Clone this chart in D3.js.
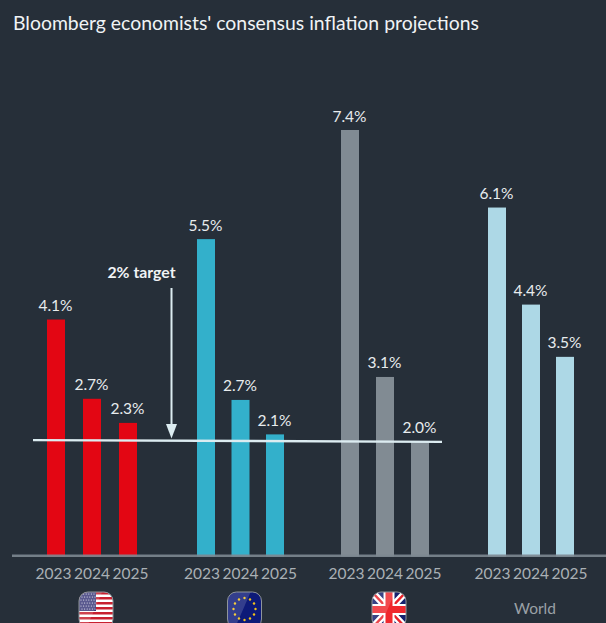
<!DOCTYPE html>
<html><head><meta charset="utf-8">
<script src="https://cdn.jsdelivr.net/npm/d3@7"></script>
<style>html,body{margin:0;padding:0;background:#262f39}svg{display:block}text{font-family:Lato,"Noto Sans",sans-serif}</style>
</head><body><svg id="c" width="606" height="623"></svg>
<script>
const titleText = "Bloomberg economists' consensus inflation projections";
const regions = ["US","Eurozone","UK","World"];
const years = ["2023","2024","2025"];
const usValues = [4.1,2.72,2.3];
const euValues = [5.5,2.7,2.1];
const ukValues = [7.4,3.1,1.97];
const worldValues = [6.05,4.36,3.45];
const usLabels = ["4.1%","2.7%","2.3%"];
const euLabels = ["5.5%","2.7%","2.1%"];
const ukLabels = ["7.4%","3.1%","2.0%"];
const worldLabels = ["6.1%","4.4%","3.5%"];
const regionColors = ["#e30613","#33b0cb","#818b93","#add8e6"];
const targetLabel = "2% target";
const targetValue = [2.0,1.97];

const values = [usValues,euValues,ukValues,worldValues];
const labels = [usLabels,euLabels,ukLabels,worldLabels];
const svg = d3.select("#c");
const W=606,H=623;
const y = d3.scaleLinear().domain([0,7.4]).range([555,130]);
const cx = d3.scaleOrdinal().domain(regions).range([92,240.5,385,531]);
const barStep = d3.scaleOrdinal().domain(regions).range([36,34.5,35,34]);
const yearIdx = d3.scalePoint().domain(years).range([-1,1]);
const barX = (r,yr)=>cx(r)+yearIdx(yr)*barStep(r);
const barW = 18;

svg.append("rect").attr("width",W).attr("height",H).attr("fill","#262f39");
svg.append("text").attr("x",13).attr("y",30).attr("font-size",19.4).attr("fill","#f0f3f5").text(titleText);

const rows = regions.flatMap((r,i)=>years.map((yr,j)=>({r,yr,v:values[i][j],l:labels[i][j],c:regionColors[i]})));
svg.append("g").selectAll("rect").data(rows).join("rect")
 .attr("x",d=>barX(d.r,d.yr)-barW/2).attr("width",barW)
 .attr("y",d=>y(d.v)).attr("height",d=>y(0)-y(d.v)+1.5).attr("fill",d=>d.c);
// baseline
svg.append("rect").attr("x",12).attr("width",W-12).attr("y",y(0)-0.5).attr("height",2.5).attr("fill","#7d8891").attr("opacity",.9);
// value labels
svg.append("g").selectAll("text").data(rows).join("text")
 .attr("x",d=>barX(d.r,d.yr)-0.5).attr("y",d=>y(d.v)-8.5).attr("text-anchor","middle")
 .attr("font-size",15.5).attr("fill","#e8ecee").text(d=>d.l);
// year labels
const yearX = d3.scalePoint().domain(years).range([-38.5,38.5]);
svg.append("g").selectAll("text").data(regions.flatMap(r=>years.map(yr=>({r,yr})))).join("text")
 .attr("x",d=>cx(d.r)+yearX(d.yr)).attr("y",579).attr("text-anchor","middle")
 .attr("font-size",15.5).attr("fill","#aab0b5").text(d=>d.yr);
// target line
const lineC="#dcecf1";
svg.append("line").attr("x1",33).attr("x2",442).attr("y1",y(targetValue[0])).attr("y2",y(targetValue[1]))
 .attr("stroke",lineC).attr("stroke-width",2.4);
// arrow
svg.append("line").attr("x1",171.5).attr("x2",171.5).attr("y1",288).attr("y2",428).attr("stroke",lineC).attr("stroke-width",2);
svg.append("path").attr("d",d3.line()([[166,424],[177,424],[171.5,438.5]])+"Z").attr("fill",lineC);
svg.append("text").attr("x",141.5).attr("y",278).attr("text-anchor","middle").attr("font-size",15.8).attr("font-weight",700).attr("fill","#f0f3f5").text(targetLabel);
// flags
const defs = svg.append("defs");
defs.append("clipPath").attr("id","fc").append("rect").attr("width",34).attr("height",36).attr("rx",9);
const fy=592, fw=34, fh=36;
function flag(region, draw){
  const g = svg.append("g").attr("transform",`translate(${cx(region)+4-17},${fy})`);
  const inner = g.append("g").attr("clip-path","url(#fc)");
  draw(inner);
  inner.append("path").attr("d",d3.line()([[0,0],[fw*0.68,0],[fw*0.22,fh],[0,fh]])+"Z").attr("fill","#fff").attr("opacity",.16);
  g.append("rect").attr("width",fw).attr("height",fh).attr("rx",9).attr("fill","none").attr("stroke","#8f959b").attr("stroke-width",1);
}
flag("US",g=>{
  g.append("rect").attr("width",fw).attr("height",fh).attr("fill","#fff");
  d3.range(0,13,2).forEach(i=>g.append("rect").attr("y",i*2.5).attr("width",fw).attr("height",2.5).attr("fill","#c8202f"));
  g.append("rect").attr("width",17).attr("height",19).attr("fill","#3b3a7a");
  d3.range(6).forEach(r=>d3.range(6).forEach(c=>g.append("circle").attr("cx",2+c*2.6+(r%2)*1).attr("cy",2+r*3).attr("r",.6).attr("fill","#e6e6f0")));
});
flag("Eurozone",g=>{
  g.append("rect").attr("width",fw).attr("height",fh).attr("fill","#0d1a78");
  d3.range(12).forEach(i=>{const a=i/12*2*Math.PI;
    g.append("circle").attr("cx",17+11*Math.cos(a)).attr("cy",17+11*Math.sin(a)).attr("r",1.2).attr("fill","#f2c21a");});
});
flag("UK",g=>{
  g.append("rect").attr("width",fw).attr("height",fh).attr("fill","#14206e");
  const d1=`M0,0L${fw},${fh}M${fw},0L0,${fh}`;
  g.append("path").attr("d",d1).attr("stroke","#fff").attr("stroke-width",7);
  g.append("path").attr("d",d1).attr("stroke","#e8232a").attr("stroke-width",2.4);
  g.append("rect").attr("x",11.5).attr("width",11).attr("height",fh).attr("fill","#fff");
  g.append("rect").attr("y",12).attr("width",fw).attr("height",11).attr("fill","#fff");
  g.append("rect").attr("x",13.5).attr("width",7).attr("height",fh).attr("fill","#f0282d");
  g.append("rect").attr("y",14).attr("width",fw).attr("height",7).attr("fill","#f0282d");
});
svg.append("text").attr("x",cx("World")+4).attr("y",614).attr("text-anchor","middle").attr("font-size",15.5).attr("fill","#9aa1a7").text("World");
</script></body></html>
